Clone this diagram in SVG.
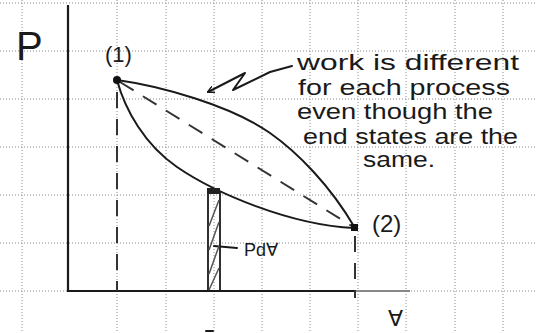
<svg xmlns="http://www.w3.org/2000/svg" width="537" height="333" viewBox="0 0 537 333">
<style>
.grid line{stroke:#8a8a8a;stroke-width:1;stroke-dasharray:1 2}
.ink{fill:none;stroke:#1a1a1a;stroke-width:2;stroke-linecap:round;stroke-linejoin:round}
.dash{fill:none;stroke:#333;stroke-width:2;stroke-dasharray:16 11}
.hand{font-family:"Liberation Sans","DejaVu Sans",sans-serif;fill:#1a1a1a}
</style>
<defs>
<marker id="arr" viewBox="0 0 10 10" refX="9" refY="5" markerWidth="7" markerHeight="7" orient="auto" markerUnits="userSpaceOnUse">
<path d="M0,0 L10,5 L0,10" fill="none" stroke="#1a1a1a" stroke-width="2"/>
</marker>
</defs>
<rect width="537" height="333" fill="#fff"/>
<g class="grid">
<line x1="0" y1="3" x2="537" y2="3"/>
<line x1="0" y1="51" x2="537" y2="51"/>
<line x1="0" y1="99" x2="537" y2="99"/>
<line x1="0" y1="147" x2="537" y2="147"/>
<line x1="0" y1="195" x2="537" y2="195"/>
<line x1="0" y1="243" x2="537" y2="243"/>
<line x1="0" y1="291" x2="537" y2="291"/>
<line x1="22" y1="0" x2="22" y2="333"/>
<line x1="117" y1="0" x2="117" y2="333"/>
<line x1="166" y1="0" x2="166" y2="333"/>
<line x1="214" y1="0" x2="214" y2="333"/>
<line x1="262" y1="0" x2="262" y2="333"/>
<line x1="310" y1="0" x2="310" y2="333"/>
<line x1="358" y1="0" x2="358" y2="333"/>
<line x1="406" y1="0" x2="406" y2="333"/>
<line x1="455" y1="0" x2="455" y2="333"/>
<line x1="503" y1="0" x2="503" y2="333"/>
</g>
<g id="axes">
<line x1="68" y1="5" x2="68" y2="292" stroke="#1a1a1a" stroke-width="2.2"/>
<line x1="67" y1="291" x2="356" y2="291" stroke="#1a1a1a" stroke-width="2.2"/>
<line x1="356" y1="291" x2="410" y2="291" stroke="#888" stroke-width="2.2"/>
<text class="hand" x="16" y="60" font-size="40">P</text>
<text class="hand" x="388" y="326" font-size="22">∀</text>
</g>
<g id="connectors">
<path class="ink" d="M117,80 C160,86 230,105 270,133 C297,152 330,185 355,228"/>
<path class="ink" d="M117,80 C125,110 145,145 177,167 C215,193 290,225 354,228"/>
<line class="dash" x1="120" y1="82" x2="355" y2="228"/>
<line class="dash" x1="117" y1="92" x2="117" y2="291"/>
<line class="dash" x1="355" y1="236" x2="355" y2="298"/>
<path class="ink" d="M292,66 L270,72 L233,90 L245,73 L208,92" marker-end="url(#arr)" stroke-width="1.8"/>
<line class="ink" x1="214" y1="246" x2="237" y2="248" stroke-width="1.8"/>
<line class="ink" x1="206" y1="331" x2="213" y2="331" stroke-width="1.5"/>
</g>
<g id="state1">
<circle cx="117" cy="80" r="4" fill="#111"/>
<text class="hand" x="105" y="62" font-size="22">(1)</text>
</g>
<g id="state2">
<rect x="351" y="224" width="7" height="7" fill="#111"/>
<text class="hand" x="372" y="232" font-size="24">(2)</text>
</g>
<g id="strip">
<rect x="208" y="192" width="12" height="99" fill="none" stroke="#1a1a1a" stroke-width="1.8"/>
<rect x="207" y="188" width="13" height="6" fill="#222"/>
<path d="M209,226 L219,200 M209,250 L219,222 M209,274 L219,246 M209,290 L219,268" stroke="#555" stroke-width="1.5" fill="none"/>
<text class="hand" x="244" y="256" font-size="18">Pd∀</text>
</g>
<g id="note">
<text class="hand" x="297" y="70" font-size="22" textLength="222" lengthAdjust="spacingAndGlyphs">work is different</text>
<text class="hand" x="298" y="95" font-size="22" textLength="212" lengthAdjust="spacingAndGlyphs">for each process</text>
<text class="hand" x="297" y="119" font-size="22" textLength="196" lengthAdjust="spacingAndGlyphs">even though the</text>
<text class="hand" x="303" y="144" font-size="22" textLength="215" lengthAdjust="spacingAndGlyphs">end states are the</text>
<text class="hand" x="363" y="167" font-size="22" textLength="72" lengthAdjust="spacingAndGlyphs">same.</text>
</g>
</svg>
